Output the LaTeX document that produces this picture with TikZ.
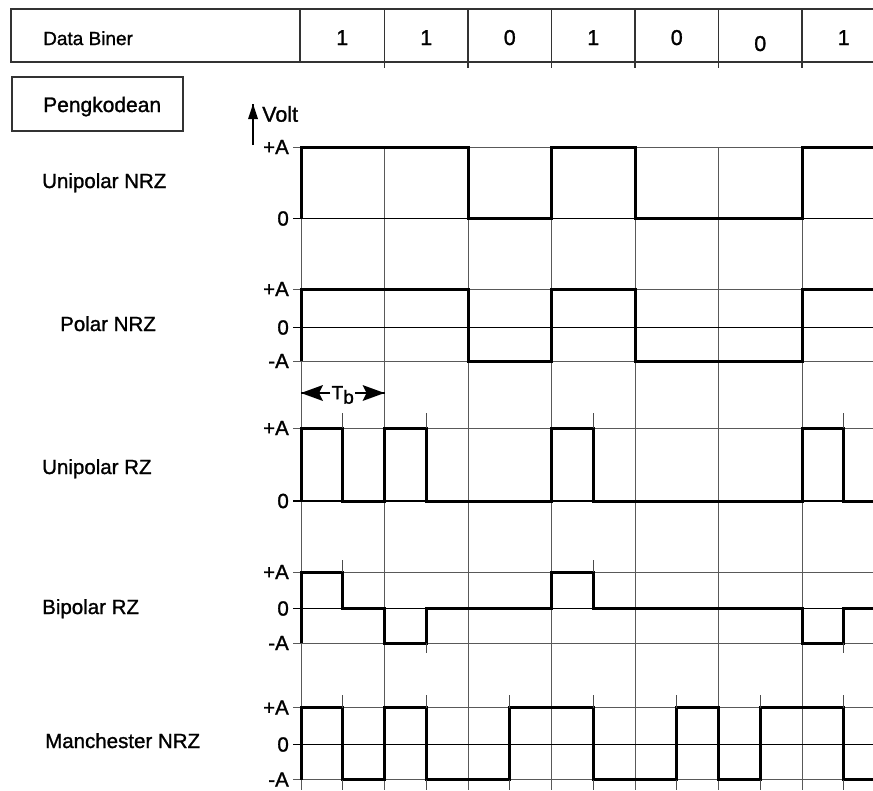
\documentclass[tikz,border=0pt]{standalone}
\usepackage{fontspec}
\setmainfont{Liberation Sans}
\newfontfamily\heavy[FakeBold=1.2]{Liberation Sans}
\usetikzlibrary{arrows.meta}
\begin{document}
\begin{tikzpicture}[x=1pt,y=-1pt,
  lbl/.style={font=\heavy\fontsize{20.5}{22}\selectfont, inner sep=0pt},
  dig/.style={font=\heavy\fontsize{21.5}{24}\selectfont, inner sep=0pt, anchor=base},
  lev/.style={font=\heavy\fontsize{20.5}{22}\selectfont, inner sep=0pt, anchor=east},
  tbl/.style={draw=black!80, line width=1.4pt},
  gridln/.style={draw=black!65, line width=0.9pt},
  axis/.style={draw=black, line width=1.7pt},
  wave/.style={draw=black, line width=3pt, line join=miter},
  tick/.style={draw=black!70, line width=0.9pt},
  shaft/.style={draw=black, line width=1.8pt},
  head/.style={fill=black}
]
\useasboundingbox (0,0) rectangle (873,790);
\fill[white] (0,0) rectangle (873,790);

% ---------- table ----------
\draw[tbl] (890,9) -- (11,9) -- (11,62) -- (890,62);
\foreach \x in {300,384.5,468,551.5,635,718.5,802}
  \draw[tbl] (\x,9) -- (\x,62);
\foreach \x in {384.5,468,551.5,635,718.5,802}
  \draw[tbl] (\x,62) -- (\x,68);
\node[lbl, font=\heavy\fontsize{19}{22}\selectfont, anchor=base west] (databiner) at (43,45) {Data Biner};
\node[dig] (d1) at (342.25,45) {1};
\node[dig] (d2) at (426.25,45) {1};
\node[dig] (d3) at (509.75,45) {0};
\node[dig] (d4) at (593.25,45) {1};
\node[dig] (d5) at (676.75,45) {0};
\node[dig] (d6) at (760.25,51) {0};
\node[dig] (d7) at (843.75,45) {1};

\draw[tbl] (12,77) rectangle (183,131);
\node[lbl, font=\heavy\fontsize{21}{24}\selectfont, anchor=base west] (peng) at (43,112) {Pengkodean};

% ---------- vertical grid ----------
\foreach \x in {301,384.5,468,551.5,635,718.5,802}
  \draw[gridln] (\x,147) -- (\x,790);

% ---------- horizontal grid / axes ----------
\foreach \y in {147,289,361,428,572,643,707.5,779.5}
  \draw[gridln] (293,\y) -- (873,\y);
\foreach \y in {218.5,327.5,501,608.5,744.5}
  \draw[axis] (293,\y) -- (873,\y);

% ---------- level labels ----------
\node[lev] (un-a) at (289,147) {+A};
\node[lev] (un-z) at (289,218.5) {0};
\node[lev] (pn-a) at (289,289) {+A};
\node[lev] (pn-z) at (289,327.5) {0};
\node[lev] (pn-m) at (289,361) {-A};
\node[lev] (ur-a) at (289,428) {+A};
\node[lev] (ur-z) at (289,501) {0};
\node[lev] (br-a) at (289,572) {+A};
\node[lev] (br-z) at (289,608.5) {0};
\node[lev] (br-m) at (289,643) {-A};
\node[lev] (mn-a) at (289,707.5) {+A};
\node[lev] (mn-z) at (289,744.5) {0};
\node[lev] (mn-m) at (289,779.5) {-A};

% ---------- row labels ----------
\node[lbl, anchor=base west] (l-un) at (42,188) {Unipolar NRZ};
\node[lbl, anchor=base west] (l-pn) at (60,331) {Polar NRZ};
\node[lbl, anchor=base west] (l-ur) at (42,474) {Unipolar RZ};
\node[lbl, anchor=base west] (l-br) at (42,614) {Bipolar RZ};
\node[lbl, anchor=base west] (l-mn) at (45,748) {Manchester NRZ};

% ---------- Volt axis ----------
\coordinate (vbot) at (253,145);
\coordinate (vtop) at (253,104);
\draw[line width=1.2pt] (vbot) -- (vtop);
\fill[head] (vtop) -- ++(5,15) -- ++(-10,0) -- cycle;
\node[lbl, font=\heavy\fontsize{21.5}{24}\selectfont, anchor=west] (volt) at (262,114) {Volt};

% ---------- Tb ----------
\coordinate (tbl) at (301,393);
\coordinate (tbr) at (384.5,393);
\node[lbl, font=\heavy\fontsize{19}{22}\selectfont, fill=white, inner xsep=1pt] (tb) at (342.75,395)
  {T\raisebox{-0.45ex}{b}};
\draw[shaft] (tb.west |- tbl) -- (tbl);
\draw[shaft] (tb.east |- tbr) -- (tbr);
\fill[head] (tbl) -- ++(22,-8) -- ++(-4,8) -- ++(4,8) -- cycle;
\fill[head] (tbr) -- ++(-22,-8) -- ++(4,8) -- ++(-4,8) -- cycle;

% ---------- waveforms ----------
% Unipolar NRZ
\draw[wave] (301,218.5) -- (301,147) -- (468,147) -- (468,218.5) -- (551.5,218.5)
  -- (551.5,147) -- (635,147) -- (635,218.5) -- (802,218.5) -- (802,147) -- (880,147);
% Polar NRZ
\draw[wave] (301,361) -- (301,289) -- (468,289) -- (468,361) -- (551.5,361)
  -- (551.5,289) -- (635,289) -- (635,361) -- (802,361) -- (802,289) -- (880,289);
% Unipolar RZ
\draw[wave] (301,501) -- (301,428) -- (342.75,428) -- (342.75,501) -- (384.5,501)
  -- (384.5,428) -- (426.25,428) -- (426.25,501) -- (551.5,501) -- (551.5,428)
  -- (593.25,428) -- (593.25,501) -- (802,501) -- (802,428) -- (843.75,428)
  -- (843.75,501) -- (880,501);
\foreach \x in {342.75,426.25,593.25,843.75}
  \draw[tick] (\x,413) -- (\x,428);
% Bipolar RZ
\draw[wave] (301,643) -- (301,572) -- (342.75,572) -- (342.75,608.5) -- (384.5,608.5)
  -- (384.5,643) -- (426.25,643) -- (426.25,608.5) -- (551.5,608.5) -- (551.5,572)
  -- (593.25,572) -- (593.25,608.5) -- (802,608.5) -- (802,643) -- (843.75,643)
  -- (843.75,608.5) -- (880,608.5);
\foreach \x in {342.75,593.25}
  \draw[tick] (\x,560) -- (\x,572);
\foreach \x in {426.25,843.75}
  \draw[tick] (\x,643) -- (\x,653);
% Manchester NRZ
\draw[wave] (301,779.5) -- (301,707.5) -- (342.75,707.5) -- (342.75,779.5) -- (384.5,779.5)
  -- (384.5,707.5) -- (426.25,707.5) -- (426.25,779.5) -- (509.75,779.5) -- (509.75,707.5)
  -- (593.25,707.5) -- (593.25,779.5) -- (676.75,779.5) -- (676.75,707.5) -- (718.5,707.5)
  -- (718.5,779.5) -- (760.25,779.5) -- (760.25,707.5) -- (843.75,707.5) -- (843.75,779.5)
  -- (880,779.5);
\foreach \x in {342.75,426.25,509.75,593.25,676.75,760.25,843.75} {
  \draw[tick] (\x,695) -- (\x,707.5);
  \draw[tick] (\x,779.5) -- (\x,790);
}
\end{tikzpicture}
\end{document}
